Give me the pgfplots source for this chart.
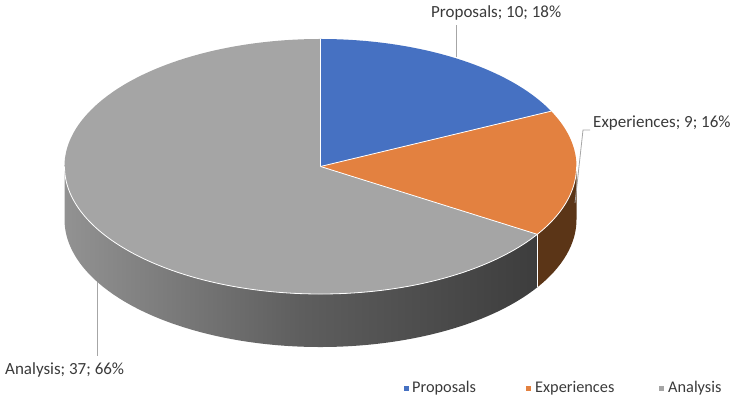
\documentclass[border=0pt]{standalone}
\usepackage{fontspec}
\setmainfont{Carlito}
\usepackage{pgfplots}
\pgfplotsset{compat=1.18}

\definecolor{cProp}{HTML}{4671C2}
\definecolor{cExp}{HTML}{E38140}
\definecolor{cAna}{HTML}{A5A5A5}
\definecolor{cExpSide}{HTML}{5B3517}
\definecolor{cAnaSideL}{HTML}{929292}
\definecolor{cAnaSideM}{HTML}{5E5E5E}
\definecolor{cAnaSideR}{HTML}{3D3D3D}
\definecolor{leader}{HTML}{A6A6A6}
\definecolor{txt}{HTML}{3A3A3A}

% slice values
\def\vProp{10}
\def\vExp{9}
\def\vAna{37}

\begin{document}
\begin{tikzpicture}
\pgfmathsetmacro\tot{\vProp+\vExp+\vAna}
\pgfmathsetmacro\aA{90}
\pgfmathsetmacro\aB{90-360*\vProp/\tot}
\pgfmathsetmacro\aC{\aB-360*\vExp/\tot}
\pgfmathsetmacro\aD{\aC+360}
\begin{axis}[
    width=739pt, height=401pt, scale only axis,
    xmin=0, xmax=739, ymin=0, ymax=401, enlargelimits=false,
    hide axis, clip=false
]
\coordinate (c) at (axis cs:320.5,234.5);

% side walls
\shade[left color=cAnaSideL, right color=cAnaSideR, middle color=cAnaSideM]
  (c) ++(180:256pt and 127.5pt)
  arc[start angle=180, end angle=\aD, x radius=256pt, y radius=127.5pt]
  -- ++(0,-53pt)
  arc[start angle=\aD, end angle=180, x radius=256pt, y radius=127.5pt]
  -- cycle;
\fill[cExpSide]
  (c) ++(\aC:256pt and 127.5pt)
  arc[start angle=\aC, end angle=0, x radius=256pt, y radius=127.5pt]
  -- ++(0,-53pt)
  arc[start angle=0, end angle=\aC, x radius=256pt, y radius=127.5pt]
  -- cycle;
\draw[white, line width=0.7pt] (c) ++(\aC:256pt and 127.5pt) -- ++(0,-53pt);

% top faces
\fill[cProp] (c) -- ++(\aA:256pt and 127.5pt)
  arc[start angle=\aA, end angle=\aB, x radius=256pt, y radius=127.5pt] -- cycle;
\fill[cExp] (c) -- ++(\aB:256pt and 127.5pt)
  arc[start angle=\aB, end angle=\aC, x radius=256pt, y radius=127.5pt] -- cycle;
\fill[cAna] (c) -- ++(\aC:256pt and 127.5pt)
  arc[start angle=\aC, end angle=-270, x radius=256pt, y radius=127.5pt] -- cycle;

% white edges
\draw[white, line width=0.8pt] (c) -- ++(\aA:256pt and 127.5pt);
\draw[white, line width=0.8pt] (c) -- ++(\aB:256pt and 127.5pt);
\draw[white, line width=0.8pt] (c) -- ++(\aC:256pt and 127.5pt);
\draw[white, line width=0.8pt] (c) ++(180:256pt and 127.5pt)
  arc[start angle=180, end angle=360, x radius=256pt, y radius=127.5pt];

% leader lines
\draw[leader, line width=0.8pt] (axis cs:456,344) -- (axis cs:456,376);
\draw[leader, line width=0.8pt] (axis cs:575,198) -- (axis cs:583,271) -- (axis cs:590,271);
\draw[leader, line width=0.8pt] (axis cs:97,119) -- (axis cs:97,45);

% data labels
\node[anchor=base west, inner sep=0, text=txt, font=\fontsize{17}{20}\selectfont]
  at (axis cs:431,383) {Proposals; 10; 18\%};
\node[anchor=base west, inner sep=0, text=txt, font=\fontsize{17}{20}\selectfont]
  at (axis cs:593,273) {Experiences; 9; 16\%};
\node[anchor=base west, inner sep=0, text=txt, font=\fontsize{17}{20}\selectfont]
  at (axis cs:5,26) {Analysis; 37; 66\%};

% legend
\fill[cProp] (axis cs:403.5,9.5) rectangle (axis cs:408.5,14.5);
\node[anchor=base west, inner sep=0, text=txt, font=\fontsize{16.3}{19}\selectfont]
  at (axis cs:412,8) {Proposals};
\fill[cExp] (axis cs:526,9.5) rectangle (axis cs:531,14.5);
\node[anchor=base west, inner sep=0, text=txt, font=\fontsize{16.3}{19}\selectfont]
  at (axis cs:535,8) {Experiences};
\fill[cAna] (axis cs:658.5,9.5) rectangle (axis cs:663.5,14.5);
\node[anchor=base west, inner sep=0, text=txt, font=\fontsize{16.3}{19}\selectfont]
  at (axis cs:668,8) {Analysis};
\end{axis}
\pgfresetboundingbox
\path[use as bounding box] (0,0) rectangle (739pt,401pt);
\end{tikzpicture}
\end{document}
